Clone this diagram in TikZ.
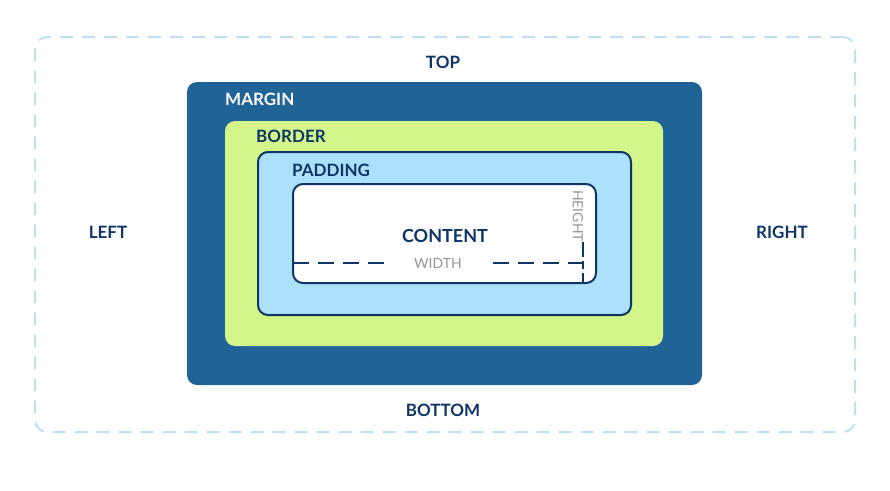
\documentclass[tikz,border=0pt]{standalone}
\usepackage{fontspec}
\setmainfont{Lato}
\usepackage{tikz}
\usepackage{xcolor}
\usetikzlibrary{positioning, calc}
\definecolor{MarginBlue}{RGB}{31,99,151}
\definecolor{BorderGreen}{RGB}{212,245,138}
\definecolor{PaddingBlue}{RGB}{173,224,250}
\definecolor{NavyLine}{RGB}{15,52,102}
\definecolor{LabelGray}{RGB}{150,150,150}
\definecolor{OuterDash}{RGB}{190,224,245}
\begin{document}
\begin{tikzpicture}[x=1pt,y=-1pt,
    layer/.style={rounded corners=10pt,minimum width=#1,inner sep=0pt,outer sep=0pt},
    lbl/.style={font=\fontsize{17}{20}\selectfont\bfseries,text=NavyLine,inner sep=0pt},
    dim/.style={font=\fontsize{14}{17}\selectfont,text=LabelGray,inner sep=0pt},
    dimline/.style={NavyLine,line width=2pt,dash pattern=on 16pt off 9pt}
  ]
    \useasboundingbox (0,0) rectangle (890,490);
    % outer area
    \node[layer=820pt,minimum height=395pt,draw=OuterDash,line width=2pt,
          dash pattern=on 13pt off 9pt,rounded corners=12pt] (outer) at (445,234.5) {};
    % nested boxes
    \node[layer=515pt,minimum height=303pt,fill=MarginBlue] (margin) at (444.5,233.5) {};
    \node[layer=438pt,minimum height=225pt,fill=BorderGreen] (border) at (444,233.5) {};
    \node[layer=373pt,minimum height=163pt,fill=PaddingBlue,draw=NavyLine,line width=2pt] (padding) at (444.5,233.5) {};
    \node[layer=303pt,minimum height=99pt,fill=white,draw=NavyLine,line width=2pt] (content) at (444.5,233.5) {};
    % side labels
    \node[lbl] (top) at (443,62) {TOP};
    \node[lbl] (bottom) at (443,410) {BOTTOM};
    \node[lbl] (left) at (108,232) {LEFT};
    \node[lbl] (right) at (782,232) {RIGHT};
    \node[lbl,text=white,anchor=west] (marginlbl) at (225,99) {MARGIN};
    \node[lbl,anchor=west] (borderlbl) at (256,136) {BORDER};
    \node[lbl,anchor=west] (paddinglbl) at (292,170) {PADDING};
    \node[lbl,font=\fontsize{18}{21}\selectfont\bfseries] (contentlbl) at (445,236) {CONTENT};
    % dimensions
    \node[dim] (widthlbl) at (438,263) {WIDTH};
    \node[dim,rotate=-90] (heightlbl) at (578,216) {HEIGHT};
    \coordinate (wa) at (content.west |- widthlbl);
    \coordinate (wb) at (385,263);
    \coordinate (wc) at (493,263);
    \coordinate (wd) at (583,263);
    \coordinate (ha) at (583,242);
    \coordinate (hb) at (583,283);
    \draw[dimline] (wa) -- (wb);
    \draw[dimline] (wc) -- (wd);
    \draw[NavyLine,line width=2pt,dash pattern=on 15pt off 4pt on 8pt off 4pt] (ha) -- (hb);
  \end{tikzpicture}
\end{document}
